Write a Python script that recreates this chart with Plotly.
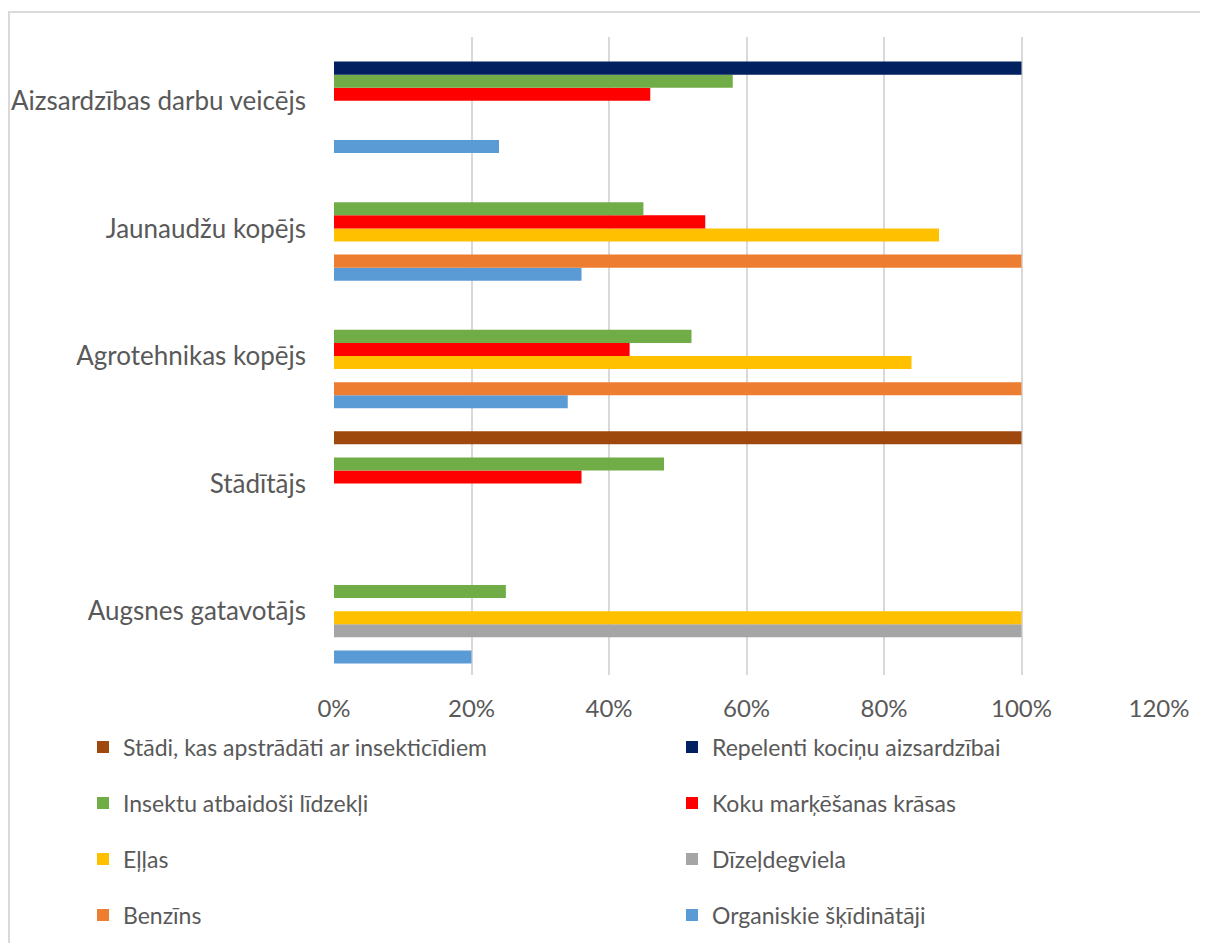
import plotly.graph_objects as go

categories = ["Augsnes gatavotājs", "Stādītājs", "Agrotehnikas kopējs",
              "Jaunaudžu kopējs", "Aizsardzības darbu veicējs"]

series_names = [
    "Stādi, kas apstrādāti ar insekticīdiem",
    "Repelenti kociņu aizsardzībai",
    "Insektu atbaidoši līdzekļi",
    "Koku marķēšanas krāsas",
    "Eļļas",
    "Dīzeļdegviela",
    "Benzīns",
    "Organiskie šķīdinātāji",
]
colors = ["#9E480E", "#002060", "#70AD47", "#FF0000",
          "#FFC000", "#A5A5A5", "#ED7D31", "#5B9BD5"]

# values per category in order: Augsnes, Stādītājs, Agrotehnikas, Jaunaudžu, Aizsardzības
stadi      = [None, 1.00, None, None, None]
repelenti  = [None, None, None, None, 1.00]
insektu    = [0.25, 0.48, 0.52, 0.45, 0.58]
koku       = [None, 0.36, 0.43, 0.54, 0.46]
ellas      = [1.00, None, 0.84, 0.88, None]
dizel      = [1.00, None, None, None, None]
benzins    = [None, None, 1.00, 1.00, None]
organiskie = [0.20, None, 0.34, 0.36, 0.24]

values = [stadi, repelenti, insektu, koku, ellas, dizel, benzins, organiskie]

tick_vals = [0, 0.2, 0.4, 0.6, 0.8, 1.0, 1.2]
tick_text = ["0%", "20%", "40%", "60%", "80%", "100%", "120%"]

FONT = "Lato"
TXT = "#595959"

# page has an 8px body margin; work in figure pixel coordinates
OFF = 8
W, H = 1200, 935
ML, MR, MT, MB = 326, 49, 29, 268
PW, PH = W - ML - MR, H - MT - MB

def px_x(p):  # page pixel -> paper x
    return (p - OFF - ML) / PW

def px_y(p):  # page pixel -> paper y
    return (H - MB - (p - OFF)) / PH

fig = go.Figure()
legend_ids = ["legend"] + ["legend%d" % k for k in range(2, 9)]

# add from bottom of group (last series) to top
for i in reversed(range(len(series_names))):
    fig.add_trace(go.Bar(
        y=categories, x=values[i], name=series_names[i], orientation="h",
        marker=dict(color=colors[i], line=dict(width=0)),
        legend=legend_ids[i],
        hoverinfo="x+name",
    ))

row_centers = [747, 803, 859, 915]
col_marker_left = [97, 686]
legends = {}
for i, lid in enumerate(legend_ids):
    r, c = divmod(i, 2)
    legends[lid] = dict(
        orientation="v", xanchor="left", yanchor="middle",
        x=px_x(col_marker_left[c] - 14), y=px_y(row_centers[r]),
        font=dict(family=FONT, size=23, color=TXT),
        bgcolor="rgba(0,0,0,0)",
    )

fig.update_layout(
    width=W, height=H,
    margin=dict(l=ML, r=MR, t=MT, b=MB, autoexpand=False),
    paper_bgcolor="white", plot_bgcolor="white",
    barmode="group", bargap=0.18, bargroupgap=0,
    font=dict(family=FONT, size=24, color=TXT),
    xaxis=dict(range=[0, 1.2], tickvals=tick_vals, ticktext=tick_text,
               showgrid=True, gridcolor="#D9D9D9", gridwidth=1.5,
               zeroline=False, showline=False, ticks="",
               ticklabelstandoff=17,
               tickfont=dict(family=FONT, size=24, color=TXT)),
    yaxis=dict(categoryorder="array", categoryarray=categories,
               showgrid=False, zeroline=False, showline=False, ticks="",
               ticklabelstandoff=27,
               tickfont=dict(family=FONT, size=26, color=TXT)),
    shapes=[dict(type="rect", xref="paper", yref="paper",
                 x0=px_x(9), x1=px_x(1230), y0=px_y(980), y1=px_y(12),
                 line=dict(color="#D9D9D9", width=2), layer="below")],
    showlegend=True,
    **legends,
)

fig.write_html("out.html")
